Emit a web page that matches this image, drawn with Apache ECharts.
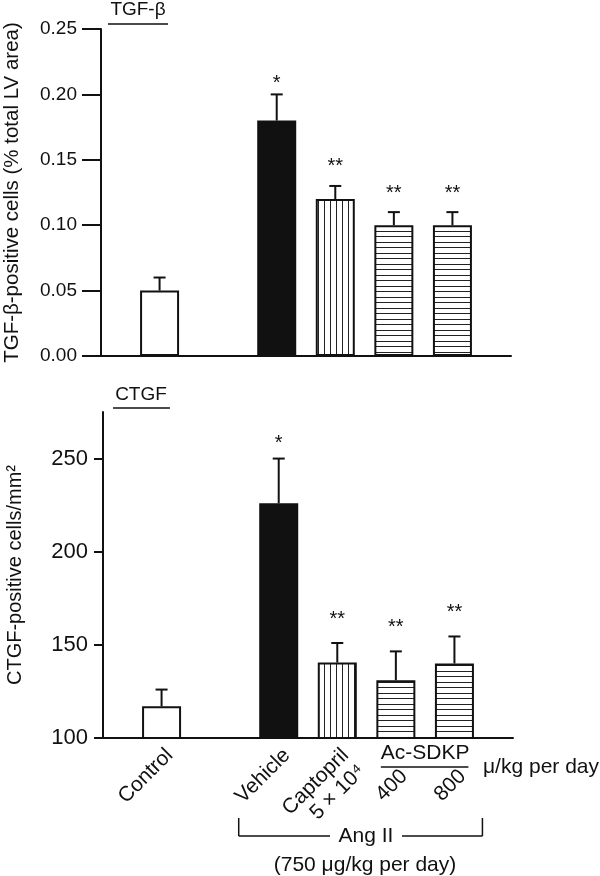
<!DOCTYPE html>
<html><head><meta charset="utf-8">
<script src="https://cdn.jsdelivr.net/npm/echarts@6/dist/echarts.min.js"></script>
<style>html,body{margin:0;padding:0;background:#fff}#c{width:600px;height:876px}</style>
</head><body><div id="c"></div>
<script>
// ---- data ----
const categories = ['', 'Control', '', 'Vehicle', 'Captopril\n5 × 10⁴', '400', '800', ''];
const tgfMean = [null, 0.05, null, 0.18, 0.12, 0.10, 0.10, null];
const tgfSem  = [null, 0.01, null, 0.02, 0.01, 0.01, 0.01, null];
const ctgfMean = [null, 117, null, 226, 140.5, 131, 140, null];
const ctgfSem  = [null, 9, null, 24, 10.5, 15.5, 14.5, null];
const stars = ['', '', '', '*', '**', '**', '**', ''];
const tgfTicks = [0, 0.05, 0.10, 0.15, 0.20, 0.25];
const ctgfTicks = [100, 150, 200, 250];

const FONT = "'Liberation Sans', Arial, Helvetica, sans-serif";
const INK = '#111';

function makePattern(vertical) {
  const c = document.createElement('canvas');
  if (vertical) { c.width = 6; c.height = 4; } else { c.width = 4; c.height = 11; }
  const ctx = c.getContext('2d');
  ctx.fillStyle = '#fff'; ctx.fillRect(0, 0, c.width, c.height);
  ctx.fillStyle = '#222';
  if (vertical) { ctx.fillRect(0, 0, 1, 4); }
  else { ctx.fillRect(0, 0, 4, 1); ctx.fillRect(0, 5, 4, 1); }
  return { image: c, repeat: 'repeat' };
}
const vPat = makePattern(true), hPat = makePattern(false);
function fillFor(i) {
  const c = categories[i];
  if (c === 'Control') return '#fff';
  if (c === 'Vehicle') return '#111';
  if (c.indexOf('Captopril') === 0) return vPat;
  return hPat;
}

function barData(mean) {
  return mean.map((v, i) => v == null ? '-' : { value: v, itemStyle: { color: fillFor(i) } });
}
function errData(mean, sem) {
  const out = [];
  mean.forEach((v, i) => { if (v != null) out.push([i, v, v + sem[i]]); });
  return out;
}
function makeRenderErr(off1, off2) {
  return function (params, api) {
    const i = api.value(0);
    const b = api.coord([i, api.value(1)]);
    const t = api.coord([i, api.value(2)]);
    const s = stars[i];
    const children = [
      { type: 'line', shape: { x1: b[0], y1: b[1], x2: t[0], y2: t[1] }, style: { stroke: INK, lineWidth: 2 } },
      { type: 'line', shape: { x1: t[0] - 6, y1: t[1], x2: t[0] + 6, y2: t[1] }, style: { stroke: INK, lineWidth: 2 } }
    ];
    if (s) {
      children.push({ type: 'text', style: { text: s, x: t[0], y: t[1] - (s.length === 1 ? off1 : off2),
        align: 'center', verticalAlign: 'middle', fontSize: 20, fontFamily: FONT, fill: INK } });
    }
    return { type: 'group', children };
  };
}

// the two Ac-SDKP doses sit lower, under the Ac-SDKP header
function xLabel(v) {
  if (v === '400' || v === '800') return '{s| }\n{d|' + v + '\u2002\u2009}';
  return v;
}

const chart = echarts.init(document.getElementById('c'), null, { renderer: 'canvas' });
const axisLineStyle = { show: true, lineStyle: { color: INK, width: 2 } };

const option = {
  animation: false,
  textStyle: { fontFamily: FONT, color: INK },
  grid: [
    { left: 101, top: 29, width: 410, height: 327, containLabel: false, outerBoundsMode: 'none' },
    { left: 103, top: 412, width: 410, height: 326, containLabel: false, outerBoundsMode: 'none' }
  ],
  xAxis: [
    { gridIndex: 0, type: 'category', data: categories, boundaryGap: false,
      axisLine: axisLineStyle, axisTick: { show: false }, axisLabel: { show: false }, splitLine: { show: false } },
    { gridIndex: 1, type: 'category', boundaryGap: false, data: categories,
      axisLine: axisLineStyle, axisTick: { show: false }, splitLine: { show: false },
      axisLabel: { show: true, interval: 0, rotate: 45, margin: 6, fontSize: 21, lineHeight: 23,
        align: 'right', verticalAlign: 'top',
        color: INK, fontFamily: FONT, formatter: xLabel,
        rich: {
          s: { fontSize: 8, lineHeight: 15, fontFamily: FONT, color: INK },
          d: { fontSize: 21, lineHeight: 23, fontFamily: FONT, color: INK }
        } } }
  ],
  yAxis: [
    { gridIndex: 0, type: 'value', min: 0, max: 0.25, interval: 0.05,
      name: 'TGF-β-positive cells (% total LV area)', nameLocation: 'middle', nameGap: 78,
      nameTextStyle: { fontSize: 20.5, color: INK, fontFamily: FONT },
      axisLine: axisLineStyle, splitLine: { show: false },
      axisTick: { show: true, length: 19, lineStyle: { color: INK, width: 2 }, customValues: tgfTicks },
      axisLabel: { fontSize: 19, margin: 24, color: INK, customValues: tgfTicks, formatter: v => v.toFixed(2) } },
    { gridIndex: 1, type: 'value', min: 100, max: 275, interval: 50,
      name: 'CTGF-positive cells/mm²', nameLocation: 'middle', nameGap: 78,
      nameTextStyle: { fontSize: 20, color: INK, fontFamily: FONT },
      axisLine: axisLineStyle, splitLine: { show: false },
      axisTick: { show: true, length: 9, lineStyle: { color: INK, width: 2 }, customValues: ctgfTicks },
      axisLabel: { fontSize: 22, margin: 15, color: INK, customValues: ctgfTicks } }
  ],
  series: [
    { type: 'bar', xAxisIndex: 0, yAxisIndex: 0, barWidth: 39, data: barData(tgfMean),
      itemStyle: { borderColor: INK, borderWidth: 2 }, silent: true, z: 2 },
    { type: 'custom', xAxisIndex: 0, yAxisIndex: 0, data: errData(tgfMean, tgfSem), renderItem: makeRenderErr(11, 19), silent: true, z: 3 },
    { type: 'bar', xAxisIndex: 1, yAxisIndex: 1, barWidth: 39, data: barData(ctgfMean),
      itemStyle: { borderColor: INK, borderWidth: 2 }, silent: true, z: 2 },
    { type: 'custom', xAxisIndex: 1, yAxisIndex: 1, data: errData(ctgfMean, ctgfSem), renderItem: makeRenderErr(15, 24), silent: true, z: 3 }
  ]
};
chart.setOption(option);

// annotations
const px = (i) => chart.convertToPixel({ xAxisIndex: 1 }, i);
const xVeh = px(3), x800 = px(6), x400 = px(5);
const t = (text, x, y, extra) => ({ type: 'text', style: Object.assign({ text, x, y, align: 'center', verticalAlign: 'middle', fontSize: 21, fontFamily: FONT, fill: INK }, extra || {}) });
const ln = (x1, y1, x2, y2) => ({ type: 'line', shape: { x1, y1, x2, y2 }, style: { stroke: INK, lineWidth: 1.5 } });
const bl = xVeh - 40, br = x800 + 28;
chart.setOption({
  graphic: [
    t('TGF-β', 138, 10, { fontSize: 19 }), ln(108, 24, 168, 24),
    t('CTGF', 141, 395, { fontSize: 19 }), ln(113, 408, 170, 408),
    t('Ac-SDKP', (x400 + x800) / 2, 753), ln(x400 - 15, 767, x800 + 14, 767),
    t('μ/kg per day', 483, 767, { align: 'left' }),
    ln(bl, 818, bl, 836), ln(bl, 836, 330, 836), ln(402, 836, br, 836), ln(br, 836, br, 818),
    t('Ang II', 366, 836),
    t('(750 μg/kg per day)', 365, 865)
  ]
});
</script></body></html>
